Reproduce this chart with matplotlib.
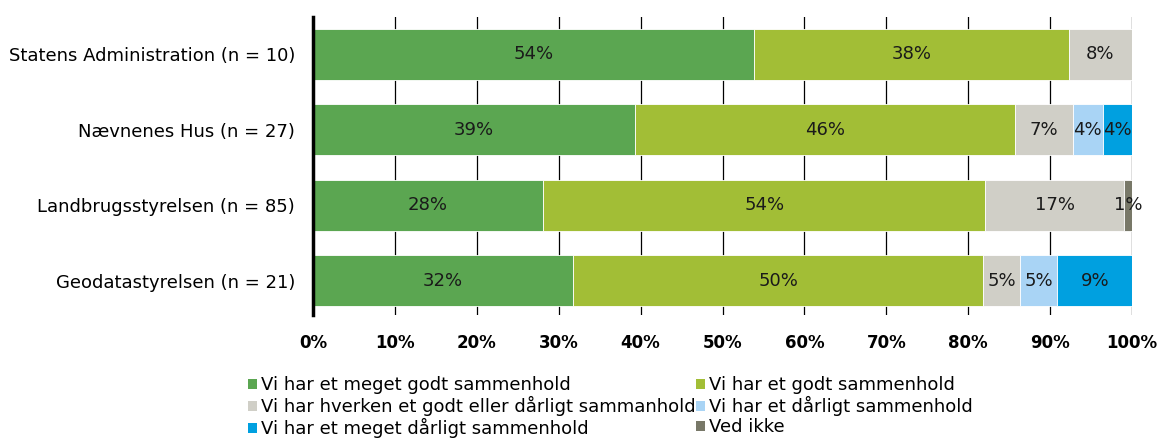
import matplotlib
matplotlib.use("Agg")
from matplotlib import pyplot as plt
from matplotlib.patches import Patch

categories = ['Statens Administration (n = 10)', 'Nævnenes Hus (n = 27)',
              'Landbrugsstyrelsen (n = 85)', 'Geodatastyrelsen (n = 21)']
series_names = ['Vi har et meget godt sammenhold',
                'Vi har et godt sammenhold',
                'Vi har hverken et godt eller dårligt sammanhold',
                'Vi har et dårligt sammenhold',
                'Vi har et meget dårligt sammenhold',
                'Ved ikke']
values = [
    [53.8, 39.3, 28.1, 31.8],
    [38.5, 46.4, 54.0, 50.0],
    [7.7, 7.1, 16.9, 4.55],
    [0.0, 3.6, 0.0, 4.55],
    [0.0, 3.6, 0.0, 9.1],
    [0.0, 0.0, 1.1, 0.0],
]
colors = ['#5ba651', '#a2be36', '#d0cfc7', '#a9d4f5', '#00a0e0', '#787868']
xticks = [0, 10, 20, 30, 40, 50, 60, 70, 80, 90, 100]

fig = plt.figure(figsize=(11.61, 4.42), dpi=100)
ax = fig.add_axes([313/1161, 1-315/442, (1132-313)/1161, (315-17)/442])

ypos = list(range(len(categories)))
left = [0.0] * len(categories)
for name, vals, col in zip(series_names, values, colors):
    ax.barh(ypos, vals, left=left, height=0.675, color=col,
            edgecolor='white', linewidth=0.6, label=name, zorder=2)
    for y, v, l in zip(ypos, vals, left):
        if v > 0:
            ax.text(l + v / 2, y, f'{v:.0f}%', ha='center', va='center',
                    fontsize=13, color='#1a1a1a', zorder=3)
    left = [a + b for a, b in zip(left, vals)]

ax.set_xlim(0, 100)
ax.set_ylim(3.457, -0.497)
ax.set_yticks(ypos)
ax.set_yticklabels(categories, fontsize=13)
ax.set_xticks(xticks)
ax.set_xticklabels([f'{t}%' for t in xticks], fontsize=12, fontweight='bold')
ax.tick_params(axis='y', length=0, pad=13)
ax.tick_params(axis='x', length=0, pad=14)
for t in xticks[1:]:
    ax.axvline(t, color='black', linewidth=0.9, zorder=1)
for s in ['top', 'right', 'bottom']:
    ax.spines[s].set_visible(False)
ax.spines['left'].set_linewidth(2.5)
ax.spines['left'].set_zorder(4)

handles = [Patch(facecolor=c, edgecolor='none') for c in colors]
order = [0, 2, 4, 1, 3, 5]
fig.legend([handles[i] for i in order], [series_names[i] for i in order],
           ncol=2, loc='lower left', bbox_to_anchor=(235/1161, -0.02),
           frameon=False, fontsize=13, handlelength=0.5, handleheight=0.5,
           handletextpad=0.25, columnspacing=0.0, labelspacing=0.1,
           borderpad=0.2)

fig.savefig('out.png', dpi=100)
